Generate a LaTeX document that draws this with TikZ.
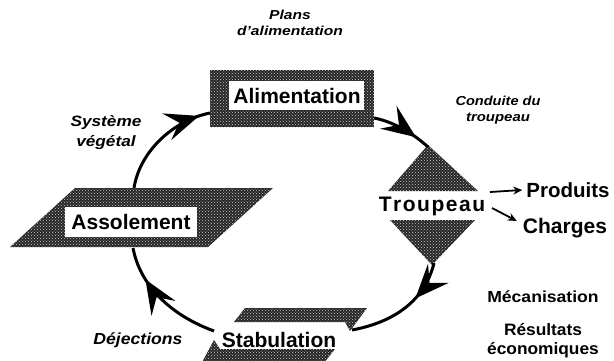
\documentclass[tikz,border=0pt]{standalone}
\usepackage{fontspec}
\setmainfont{Liberation Sans}
\usetikzlibrary{arrows.meta,decorations.markings,patterns}
\tikzset{
	dark/.style={fill=black!85,postaction={pattern=crosshatch dots,pattern color=black!20}},
	big/.style={font=\fontsize{21}{21}\selectfont\bfseries,inner sep=0pt},
	note/.style={font=\fontsize{13}{16}\selectfont\bfseries\itshape,align=center,inner sep=0pt},
	cycle/.style={line width=3pt,postaction={decorate},decoration={markings,%
		mark=at position #1 with {\arrow{Stealth[length=34pt 0,width=28pt 0,inset=13pt]}}}},
	small/.style={line width=1.8pt,-{Stealth[length=9pt,width=8pt]}}
}
\newcommand{\wide}[2][1.2]{\scalebox{#1}[1]{#2}}

\begin{document}
\begin{tikzpicture}[x=1pt,y=-1pt]
	\useasboundingbox (0,0) rectangle (614,360);
	\clip (0,0) rectangle (614,360);
	
	% Alimentation
	\path[dark] (210,70) rectangle (374,127);
	\fill[white] (229,81) rectangle (364,110);
	\node[big] (alim) at (297,96) {Alimentation};
	\coordinate (alimW) at (210,113);
	\coordinate (alimE) at (374,118);
	
	% Troupeau
	\path[dark] (428,145) -- (478,191) -- (388,191) -- cycle;
	\path[dark] (390,220) -- (475,220) -- (432,265) -- cycle;
	\node[big] (troup) at (432,206) {T\kern1.5pt r\kern1.5pt o\kern1.5pt u\kern1.5pt p\kern1.5pt e\kern1.5pt a\kern1.5pt u};
	\coordinate (troupN) at (428,147);
	\coordinate (troupS) at (434,263);
	\coordinate (troupE1) at (490,192);
	\coordinate (troupE2) at (492,208);
	
	% Assolement
	\path[dark] (10,247) -- (208,247) -- (273,188) -- (75,188) -- cycle;
	\fill[white] (65,207) rectangle (197,237);
	\node[big] (asso) at (131,222) {Assolement};
	\coordinate (assoN) at (134,188);
	\coordinate (assoS) at (133,248);
	
	% Stabulation
	\path[dark] (245,308) -- (367,308) -- (350,331) -- (345,322) -- (234,322) -- cycle;
	\path[dark] (214,340) -- (220,349) -- (335,349) -- (320,368) -- (199,368) -- cycle;
	\node[big] (stab) at (279,340) {Stabulation};
	\coordinate (stabE) at (352,330);
	\coordinate (stabW) at (214,331);
	
	% cycle
	\draw[cycle=0.9] (assoN) .. controls (140,150) and (175,120) .. (alimW);
	\draw[cycle=0.75] (alimE) .. controls (395,122) and (415,135) .. (troupN);
	\draw[cycle=0.36] (troupS) .. controls (425,300) and (395,322) .. (stabE);
	\draw[cycle=0.72] (stabW) .. controls (170,315) and (140,285) .. (assoS);
	
	% sorties
	\node[big,font=\fontsize{20.5}{21}\selectfont\bfseries] (prod) at (568,190) {Produits};
	\node[big] (charg) at (565,228) {Charges};
	\draw[small] (troupE1) -- ([xshift=-4pt]prod.west);
	\draw[small] (troupE2) -- ([xshift=-6pt,yshift=-3pt]charg.north west);
	
	\node[note] (plans) at (290,23) {\wide{Plans}\\\wide{d'alimentation}};
	\node[note] (cond) at (498,110) {\wide[1.12]{Conduite du}\\\wide[1.15]{troupeau}};
	\node[note,font=\fontsize{15}{20}\selectfont\bfseries\itshape] (vege) at (106,133) {\wide[1.15]{Système}\\\wide[1.15]{végétal}};
	\node[note,font=\fontsize{16}{18}\selectfont\bfseries\itshape] (dej) at (138,340) {\wide[1.1]{Déjections}};
	
	\node[big,font=\fontsize{16}{18}\selectfont\bfseries] (meca) at (543,297) {\wide[1.1]{Mécanisation}};
	\node[big,font=\fontsize{16.5}{19}\selectfont\bfseries,align=center] (resu) at (543,341) {\wide[1.05]{Résultats}\\\wide[1.05]{économiques}};
\end{tikzpicture}
\end{document}
